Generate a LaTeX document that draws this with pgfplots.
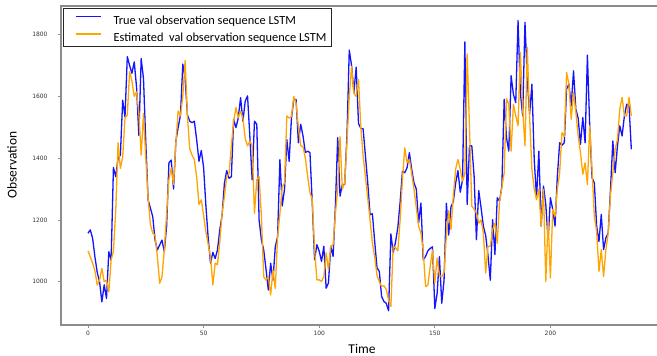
\documentclass[border=0pt]{standalone}
\usepackage{pgfplots}
\usepackage{pgfplotstable}
\pgfplotsset{compat=1.18}
\usepackage{fontspec}
\setmainfont{Carlito}
\newfontfamily\tickfont{DejaVu Sans}
\definecolor{axisgray}{RGB}{140,140,140}
\definecolor{truecol}{RGB}{20,20,255}
\definecolor{estcol}{RGB}{255,165,0}
\pgfplotstableread{
i T E
0 1157 1100
1 1168 1080
2 1140 1060
3 1080 1035
4 1030 989
5 1000 1005
6 935 1043
7 990 1000
8 946 1005
9 1097 967
10 1070 1070
11 1370 1100
12 1340 1230
13 1400 1450
14 1410 1367
15 1588 1405
16 1534 1530
17 1729 1540
18 1700 1680
19 1675 1650
20 1712 1600
21 1630 1615
22 1474 1545
23 1723 1410
24 1658 1545
25 1450 1400
26 1265 1270
27 1238 1185
28 1211 1157
29 1135 1151
30 1103 1081
31 1119 995
32 1135 1016
33 1097 1103
34 1180 1221
35 1385 1331
36 1394 1369
37 1300 1315
38 1455 1450
39 1500 1553
40 1540 1537
41 1705 1600
42 1660 1716
43 1540 1537
44 1520 1430
45 1515 1410
46 1520 1395
47 1460 1340
48 1390 1250
49 1425 1265
50 1370 1215
51 1245 1160
52 1140 1120
53 1060 1080
54 1095 990
55 1075 1060
56 1103 1055
57 1168 1130
58 1216 1221
59 1319 1276
60 1360 1340
61 1335 1350
62 1340 1440
63 1526 1520
64 1499 1564
65 1531 1531
66 1596 1553
67 1520 1530
68 1585 1464
69 1602 1440
70 1471 1455
71 1330 1440
72 1520 1221
73 1510 1330
74 1200 1340
75 1135 1211
76 1103 1016
77 1040 1005
78 973 1016
79 1060 957
80 1005 1038
81 1113 978
82 1146 1146
83 1395 1221
84 1245 1308
85 1300 1319
86 1460 1537
87 1390 1530
88 1530 1535
89 1590 1600
90 1590 1578
91 1450 1500
92 1510 1440
93 1472 1437
94 1418 1400
95 1423 1342
96 1418 1288
97 1255 1266
98 1071 1104
99 1120 1006
100 1099 1006
101 1066 1001
102 1115 1017
103 979 1093
104 996 1039
105 1115 1115
106 1082 1120
107 1245 1220
108 1467 1300
109 1277 1470
110 1315 1300
111 1315 1320
112 1472 1450
113 1750 1600
114 1700 1697
115 1613 1610
116 1695 1600
117 1512 1655
118 1497 1500
119 1495 1407
120 1407 1340
121 1320 1270
122 1217 1200
123 1220 1126
124 1130 1080
125 1045 1020
126 1033 1000
127 952 985
128 936 987
129 930 975
130 906 940
131 1155 920
132 1095 1115
133 1128 1110
134 1175 1100
135 1258 1200
136 1358 1331
137 1353 1434
138 1369 1385
139 1418 1396
140 1364 1350
141 1320 1299
142 1300 1240
143 1190 1180
144 1255 1157
145 1071 1100
146 1082 984
147 1100 989
148 1108 1050
149 1113 1103
150 913 995
151 962 1076
152 1081 1020
153 930 1016
154 1005 1030
155 1254 1150
156 1151 1230
157 1243 1169
158 1259 1277
159 1319 1364
160 1360 1396
161 1290 1364
162 1330 1326
163 1777 1350
164 1250 1738
165 1440 1500
166 1440 1245
167 1342 1235
168 1136 1223
169 1295 1190
170 1240 1200
171 1180 1158
172 1150 1028
173 1085 1115
174 1005 1115
175 1201 1168
176 1088 1190
177 1272 1125
178 1261 1260
179 1310 1304
180 1591 1353
181 1467 1593
182 1423 1575
183 1667 1423
184 1607 1575
185 1580 1537
186 1846 1505
187 1613 1743
188 1537 1559
189 1840 1440
190 1656 1759
191 1543 1532
192 1640 1364
193 1396 1300
194 1272 1266
195 1423 1299
196 1180 1180
197 1310 1299
198 1250 1001
199 1136 1200
200 1272 1012
201 1234 1234
202 1180 1212
203 1342 1300
204 1450 1353
205 1442 1483
206 1450 1470
207 1624 1678
208 1640 1640
209 1570 1526
210 1683 1613
211 1559 1550
212 1530 1472
213 1445 1418
214 1532 1348
215 1450 1385
216 1734 1315
217 1505 1505
218 1337 1364
219 1320 1212
220 1180 1163
221 1130 1033
222 1218 1104
223 1104 1017
224 1142 1104
225 1158 1158
226 1300 1282
227 1456 1353
228 1353 1429
229 1440 1461
230 1505 1559
231 1472 1597
232 1537 1537
233 1575 1537
234 1570 1597
235 1429 1537
}\datatable
\begin{document}
\begin{tikzpicture}
\begin{axis}[
  at={(0,0)}, anchor=south west,
  scale only axis,
  width=599bp, height=319bp,
  xmin=-11.68, xmax=247.4,
  ymin=859.8, ymax=1893,
  xtick={0,50,100,150,200},
  ytick={1000,1200,1400,1600,1800},
  axis line style={draw=axisgray, line width=1.1bp},
  tick style={draw=axisgray, line width=0.7bp},
  tick align=outside,
  major tick length=3bp,
  xtick pos=bottom, ytick pos=left,
  /pgf/number format/assume math mode=true,
  /pgf/number format/1000 sep={},
  ticklabel style={font=\tickfont\fontsize{6}{7}\selectfont, text=black!80},
  yticklabel style={xshift=-7bp},
  legend cell align=left,
  legend style={at={(rel axis cs:0,1)}, anchor=north west, xshift=2bp, yshift=-2bp,
    draw=black!85, line width=1.2bp, font=\fontsize{12.4}{15}\selectfont,
    inner xsep=3bp, inner ysep=2bp, row sep=0bp},
  legend image code/.code={\path[draw=none, fill=none] (-9bp,-4bp) rectangle (36bp,10bp); \draw[#1, line width=1.8bp] (0bp,4bp) -- (25bp,4bp);},
]
\addplot[truecol, line width=1.3bp, line join=round] table[x=i, y=T] {\datatable};
\addlegendentry{True val observation sequence LSTM}
\addplot[estcol, line width=1.3bp, line join=round] table[x=i, y=E] {\datatable};
\addlegendentry{Estimated~ val observation sequence LSTM\hspace{1bp}}
\end{axis}
\node[rotate=90, font=\fontsize{13.5}{15}\selectfont] at (-49bp,160bp) {Observation};
\node[font=\fontsize{13.5}{15}\selectfont] at (301bp,-24bp) {Time};
\pgfresetboundingbox
\path[use as bounding box] (-61bp,-31bp) rectangle (596bp,325bp);
\end{tikzpicture}
\end{document}
